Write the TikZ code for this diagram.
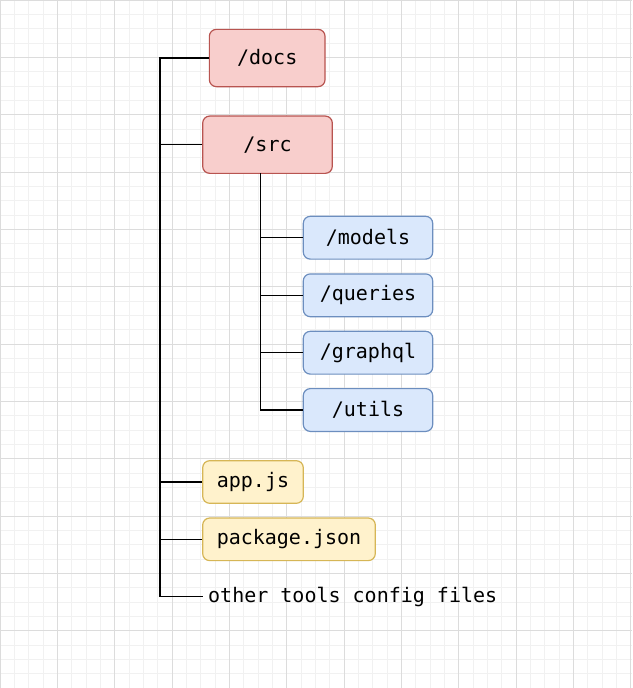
\documentclass[tikz,border=0pt]{standalone}
\usepackage{fontspec}
\setmonofont{DejaVu Sans Mono}
\definecolor{gridminor}{HTML}{F1F1F1}
\definecolor{gridmajor}{HTML}{DCDCDC}
\definecolor{redfill}{HTML}{F8CECC}
\definecolor{redline}{HTML}{B85450}
\definecolor{bluefill}{HTML}{DAE8FC}
\definecolor{blueline}{HTML}{6C8EBF}
\definecolor{yelfill}{HTML}{FFF2CC}
\definecolor{yelline}{HTML}{D6B656}
\tikzset{
  box/.style={rounded corners=7pt, line width=1.2pt, inner sep=0pt,
    font=\ttfamily\fontsize{20}{24}\selectfont, text=black},
  redbox/.style={box, fill=redfill, draw=redline, minimum height=57.3pt},
  bluebox/.style={box, fill=bluefill, draw=blueline, minimum height=42.8pt, minimum width=129.4pt},
  yelbox/.style={box, fill=yelfill, draw=yelline, minimum height=42.6pt},
  conn/.style={line width=1.5pt, black},
  plain/.style={inner sep=0pt, font=\ttfamily\fontsize{20}{24}\selectfont, text=black}
}
\begin{document}
\begin{tikzpicture}[x=1pt,y=-1pt]
\useasboundingbox (0,0) rectangle (632,688);
\fill[white] (0,0) rectangle (632,688);
% grid
\foreach \i in {0,...,44} {\draw[gridminor, line width=0.8pt] (\i*14.3333,0) -- (\i*14.3333,688);}
\foreach \i in {0,...,48} {\draw[gridminor, line width=0.8pt] (0,\i*14.3333) -- (632,\i*14.3333);}
\foreach \i in {0,...,11} {\draw[gridmajor, line width=0.9pt] (\i*57.3333,0) -- (\i*57.3333,688);}
\foreach \i in {0,...,12} {\draw[gridmajor, line width=0.9pt] (0,\i*57.3333) -- (632,\i*57.3333);}

% nodes
\node[redbox, minimum width=115.7pt] (docs) at (267.2,58) {/docs};
\node[redbox, minimum width=129.6pt] (src) at (267.5,144.7) {/src};
\node[bluebox] (models) at (368,237.7) {/models};
\node[bluebox] (queries) at (368,295.3) {/queries};
\node[bluebox] (graphql) at (368,352.7) {/graphql};
\node[bluebox] (utils) at (368,410) {/utils};
\node[yelbox, minimum width=100.6pt] (app) at (253,482) {app.js};
\node[yelbox, minimum width=172.6pt] (pkg) at (289,539.3) {package.json};
\node[plain, anchor=west] (other) at (208,596.7) {other tools config files};

% trunk
\coordinate (trunktop) at (160,58);
\coordinate (trunkbot) at (160,596.7);
\coordinate (subtop) at (260.5,173.3);
\coordinate (otherend) at (202.7,596.7);

\draw[conn] (docs.west) -- (trunktop) -- (trunkbot) -- (otherend);
\draw[conn] (src.west) -- (src.west -| trunktop);
\draw[conn] (app.west) -- (app.west -| trunktop);
\draw[conn] (pkg.west) -- (pkg.west -| trunktop);

% sub branch
\draw[conn] (subtop) |- (utils.west);
\draw[conn] (models.west) -- (models.west -| subtop);
\draw[conn] (queries.west) -- (queries.west -| subtop);
\draw[conn] (graphql.west) -- (graphql.west -| subtop);
\end{tikzpicture}
\end{document}
